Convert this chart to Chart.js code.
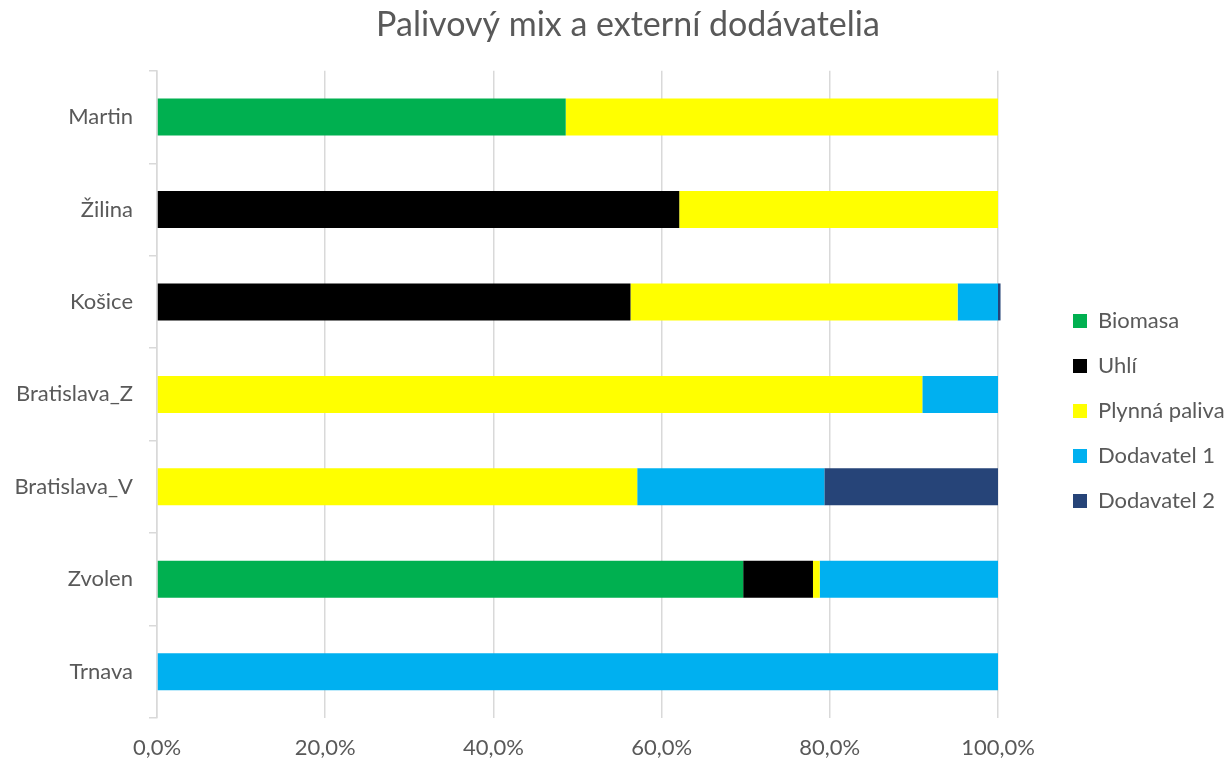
<!DOCTYPE html>
<html>
<head>
<meta charset="utf-8">
<script src="https://cdn.jsdelivr.net/npm/chart.js@4.4.0/dist/chart.umd.min.js"></script>
<style>
  html, body { margin: 0; padding: 0; background: #fff; }
  #wrap { width: 1226px; height: 761px; }
</style>
</head>
<body>
<div id="wrap"><canvas id="mixChart"></canvas></div>
<script>
/* ======================
   DATA
====================== */

const cities = ["Martin", "Žilina", "Košice", "Bratislava_Z", "Bratislava_V", "Zvolen", "Trnava"];

const biomasa = [48.6, 0, 0, 0, 0, 69.7, 0];
const uhli    = [0, 62.1, 56.3, 0, 0, 8.3, 0];
const plynna  = [51.4, 37.9, 38.9, 91.0, 57.1, 0.8, 0];
const dod1    = [0, 0, 4.8, 9.0, 22.25, 21.2, 100];
const dod2    = [0, 0, 0.3, 0, 20.65, 0, 0];

const xTicks = [0, 20, 40, 60, 80, 100];

const grey = "#595959";
const gridGrey = "#d9d9d9";
const font = "Lato";

/* ======================
   LEGEND PLACEMENT
====================== */

// keeps the plot at its width and moves the legend block to the right
const legendPlace = {
  id: "legendPlace",
  afterInit(chart) {
    const lg = chart.legend;
    const fit = lg.fit.bind(lg);
    lg.fit = function () {
      fit();
      this.width = 258;
    };
  },
  afterLayout(chart) {
    const lg = chart.legend;
    lg.left = 1050;
    lg.top = 287;
  }
};

/* ======================
   CHART
====================== */

const ctx = document.getElementById("mixChart").getContext("2d");

const ds = (label, data, color) => ({
  label,
  data,
  backgroundColor: color,
  borderWidth: 0,
  barPercentage: 0.4,
  categoryPercentage: 1,
  clip: false
});

new Chart(ctx, {
  type: "bar",
  data: {
    labels: cities,
    datasets: [
      ds("Biomasa", biomasa, "#00b050"),
      ds("Uhlí", uhli, "#000000"),
      ds("Plynná paliva", plynna, "#ffff00"),
      ds("Dodavatel 1", dod1, "#00b0f0"),
      ds("Dodavatel 2", dod2, "#264478")
    ]
  },
  options: {
    indexAxis: "y",
    responsive: true,
    maintainAspectRatio: false,
    animation: false,
    // negative right padding so the full-width title centres like the original
    layout: { padding: { left: 0, right: -30, top: 0, bottom: 0 } },
    scales: {
      x: {
        stacked: true,
        min: 0,
        max: 100,
        afterBuildTicks: s => { s.ticks = xTicks.map(v => ({ value: v })); },
        afterFit: s => { s.height = 43; },
        ticks: {
          color: grey,
          font: { family: font, size: 22 },
          padding: 17,
          maxRotation: 0,
          callback: v => v.toFixed(1).replace(".", ",") + "%"
        },
        grid: { color: gridGrey, lineWidth: 1.5, drawTicks: false },
        border: { display: false }
      },
      y: {
        stacked: true,
        afterFit: s => { s.width = 157; },
        ticks: {
          color: grey,
          font: { family: font, size: 22 },
          padding: 16
        },
        grid: {
          offset: true,
          drawOnChartArea: false,
          color: gridGrey,
          lineWidth: 1.5,
          tickLength: 8
        },
        border: { display: true, color: gridGrey, width: 1.5 }
      }
    },
    plugins: {
      title: {
        display: true,
        text: "Palivový mix a externí dodávatelia",
        color: grey,
        font: { family: font, size: 34, weight: "normal" },
        padding: { top: 5, bottom: 25 }
      },
      legend: {
        position: "right",
        align: "start",
        labels: {
          color: grey,
          font: { family: font, size: 22 },
          boxWidth: 14,
          boxHeight: 14,
          padding: 23
        }
      },
      tooltip: { enabled: false }
    }
  },
  plugins: [legendPlace]
});
</script>
</body>
</html>
